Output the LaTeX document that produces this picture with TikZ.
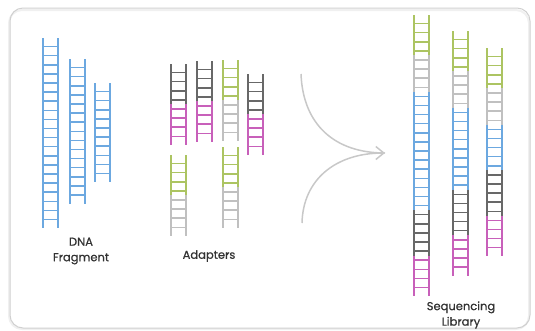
\documentclass[tikz,border=0pt]{standalone}
\usepackage{fontspec}
\setmainfont{Poppins}
\newfontfamily\labelfont{Poppins}[FakeBold=0.7]
\usetikzlibrary{arrows.meta}

\definecolor{dnablue}{RGB}{108,168,224}
\definecolor{adgreen}{RGB}{172,196,98}
\definecolor{adlight}{RGB}{192,192,192}
\definecolor{addark}{RGB}{104,104,104}
\definecolor{adpink}{RGB}{200,96,186}
\definecolor{labeltext}{RGB}{50,50,50}
\definecolor{frameline}{RGB}{208,208,208}
\definecolor{arrowgray}{RGB}{200,200,200}

% ladder geometry: rung spacing, end padding, rail distance
\def\rs{9.1}
\def\lpad{4}
\def\lw{15}

% \ladder{left rail x}{top y}{colour/rungs, colour/rungs, ...}
\newcommand\ladder[3]{%
  \pgfmathsetmacro\lytmp{#2+\lpad}\xdef\ly{\lytmp}%
  \foreach \lcol/\lk [count=\li] in {#3}{%
    \ifnum\li=1
      \draw[rail,\lcol] (#1,#2) -- (#1,\ly) (#1+\lw,#2) -- (#1+\lw,\ly);
    \fi
    \pgfmathsetmacro\lyend{\ly+\lk*\rs}%
    \draw[rail,\lcol] (#1,\ly) -- (#1,\lyend) (#1+\lw,\ly) -- (#1+\lw,\lyend);
    \foreach \m in {1,...,\lk}
      \draw[rung,\lcol] (#1,\ly+\m*\rs-0.5*\rs) -- ++(\lw,0);
    \xdef\ly{\lyend}\xdef\llast{\lcol}%
  }%
  \draw[rail,\llast] (#1,\ly) -- ++(0,\lpad) (#1+\lw,\ly) -- ++(0,\lpad);
}

\tikzset{
  rail/.style={line width=1.9pt, line cap=butt},
  rung/.style={line width=1.5pt, line cap=butt},
  caption/.style={text=labeltext, align=center, font=\labelfont\fontsize{11.5}{15.5}\selectfont, inner sep=0pt},
  flow/.style={arrowgray, line width=1.5pt},
}

\begin{document}
\begin{tikzpicture}[x=1pt, y=-1pt]
\useasboundingbox (0,0) rectangle (535,330);

% frame
\draw[gray!12, line width=2pt, rounded corners=13pt] (9,10) rectangle (529,329);
\draw[frameline, line width=1pt, rounded corners=13pt] (10,8) rectangle (530,328);

% DNA fragments
\ladder{43}{38}{dnablue/20}
\ladder{70}{59}{dnablue/15}
\ladder{95}{83}{dnablue/10}

% adapters
\ladder{171}{64}{addark/4,adpink/4}
\ladder{197}{61}{addark/4,adpink/4}
\ladder{223}{60}{adgreen/4,adlight/4}
\ladder{248}{74}{addark/4,adpink/4}
\ladder{171}{155}{adgreen/4,adlight/4}
\ladder{223}{147}{adgreen/4,adlight/4}

% sequencing library
\ladder{414}{15}{adgreen/4,adlight/4,dnablue/13,addark/5,adpink/4}
\ladder{453}{31}{adgreen/4,adlight/4,dnablue/9,addark/5,adpink/4}
\ladder{487}{48}{adgreen/4,adlight/4,dnablue/5,addark/5,adpink/4}

% merging arrow
\coordinate (arrTop) at (301,74);
\coordinate (arrBot) at (302,223);
\coordinate (arrTip) at (385,153);
\draw[flow] (arrTop) .. controls (303,125) and (335,153) .. (arrTip);
\draw[flow, -{Straight Barb[length=8pt, width=13pt]}] (arrBot) .. controls (303,180) and (335,153) .. (arrTip);

% labels
\node[caption] (lblFragment) at (81,251) {DNA\\Fragment};
\node[caption] (lblAdapters) at (209,256) {Adapters};
\node[caption] (lblLibrary) at (461,315) {Sequencing\\Library};
\end{tikzpicture}
\end{document}
